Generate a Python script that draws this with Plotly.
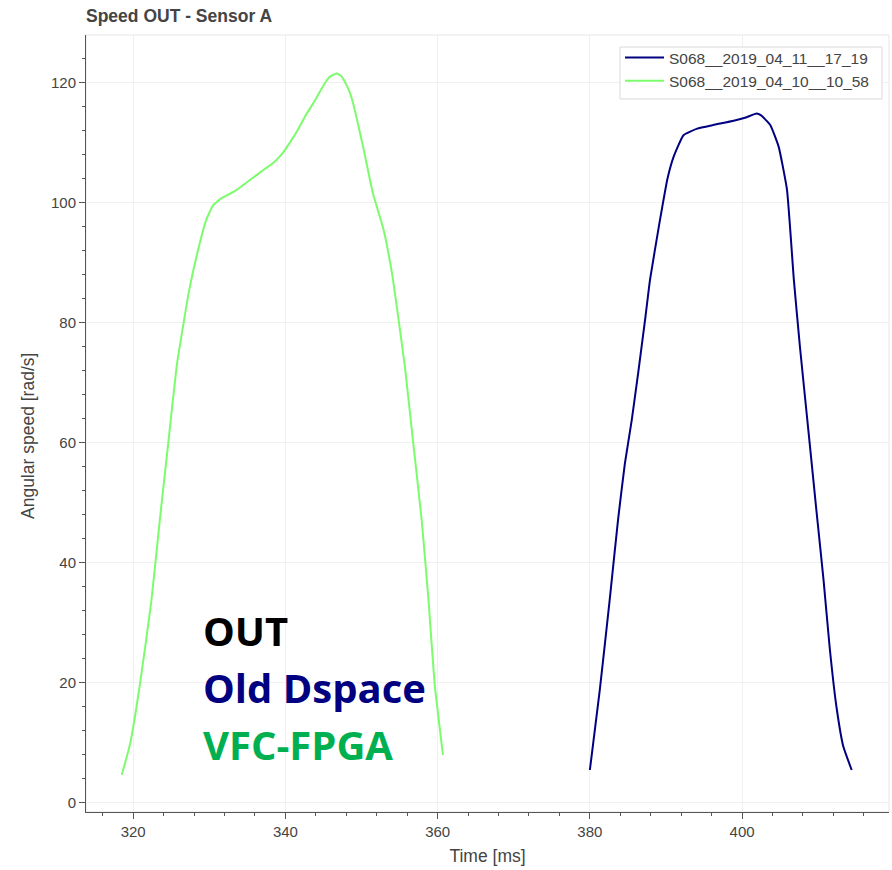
import plotly.graph_objects as go

# ---- data ----
green_name = "S068__2019_04_10__10_58"
green_time = [318.5, 319.6, 320.9, 322.4, 323.5, 324.6, 325.7, 326.7, 327.3, 328.3,
              329.6, 330.5, 331.6, 332.5, 333.6, 335.3, 337.1, 338.5, 339.5, 340.5,
              341.5, 342.8, 343.8, 344.5, 345.2, 345.8, 346.7, 347.3, 347.8, 348.4,
              348.9, 350.2, 351.5, 352.9, 354.0, 354.7, 355.7, 356.8, 357.9, 358.8,
              359.6, 360.7]
green_speed = [4.6, 9.8, 19.8, 33.7, 47.1, 59.8, 72.6, 80.5, 85.0, 90.9,
               97.1, 99.5, 100.7, 101.3, 102.1, 103.7, 105.4, 106.7, 108.0, 109.8,
               111.8, 114.8, 116.8, 118.4, 119.9, 120.9, 121.5, 121.1, 120.1, 118.5,
               116.5, 109.3, 101.5, 95.4, 88.2, 82.0, 72.6, 59.8, 47.1, 33.7,
               19.8, 7.9]

blue_name = "S068__2019_04_11__17_19"
blue_time = [380.0, 381.3, 382.6, 383.7, 384.6, 385.5, 386.4, 387.3, 387.9, 389.2,
             390.2, 391.0, 392.3, 394.1, 396.2, 398.9, 400.6, 401.9, 402.5, 403.7,
             404.8, 405.9, 406.8, 407.6, 408.7, 409.8, 410.7, 411.5, 412.4, 413.3,
             414.4]
blue_speed = [5.4, 18.7, 33.7, 47.1, 56.5, 63.7, 72.1, 80.9, 87.1, 97.0,
              104.0, 107.6, 111.2, 112.3, 112.9, 113.6, 114.2, 114.8, 114.5, 112.9,
              109.3, 102.1, 87.1, 75.9, 62.1, 48.2, 37.1, 25.9, 15.9, 9.3,
              5.4]

x_ticks = [320, 340, 360, 380, 400]
y_ticks = [0, 20, 40, 60, 80, 100, 120]

notes = ["OUT", "Old Dspace", "VFC-FPGA"]
note_colors = ["#000000", "#000080", "#00B050"]

# ---- figure ----
W, H = 892, 870
ML, MR, MT, MB = 86, 3, 35, 58
pw, ph = W - ML - MR, H - MT - MB
FONT = "Liberation Sans, Arial"


def px_x(x):
    return (x - ML) / pw


def px_y(y):
    return 1 - (y - MT) / ph


fig = go.Figure()
fig.add_trace(go.Scatter(x=blue_time, y=blue_speed, mode="lines", name=blue_name,
                         line=dict(color="#000080", width=2, shape="spline", smoothing=0.4)))
fig.add_trace(go.Scatter(x=green_time, y=green_speed, mode="lines", name=green_name,
                         line=dict(color="#7CFC6C", width=2, shape="spline", smoothing=0.4)))

axis_common = dict(
    showline=True, linecolor="#555555", linewidth=1,
    ticks="outside", ticklen=6, tickcolor="#555555", tickwidth=1,
    showgrid=True, gridcolor="#f0f0f0", gridwidth=1,
    zeroline=False,
    tickfont=dict(family=FONT, size=15, color="#444444"),
    minor=dict(ticks="outside", ticklen=3, tickcolor="#555555", dtick=4, showgrid=False),
)

fig.update_xaxes(range=[313.8, 419.3], tickvals=x_ticks, title_text="Time [ms]",
                 title_standoff=10,
                 title_font=dict(family=FONT, size=17.5, color="#444444"), **axis_common)
fig.update_yaxes(range=[-1.6, 127.9], tickvals=y_ticks, **axis_common)

# y-axis title as annotation (centred like the reference)
fig.add_annotation(text="Angular speed [rad/s]", textangle=-90, xref="paper", yref="paper",
                   x=px_x(28), y=px_y(436), xanchor="center", yanchor="middle",
                   showarrow=False, font=dict(family=FONT, size=17.5, color="#444444"))

# outline (Bokeh-style frame)
fig.add_shape(type="rect", xref="paper", yref="paper", x0=0, y0=0, x1=1, y1=1,
              line=dict(color="#e5e5e5", width=1), layer="below")

# legend box
fig.add_shape(type="rect", xref="paper", yref="paper",
              x0=px_x(620), x1=px_x(882), y0=px_y(99), y1=px_y(47),
              line=dict(color="#d9d9d9", width=1), fillcolor="white", layer="above")

note_y = [631, 688, 745]
for txt, col, yy in zip(notes, note_colors, note_y):
    fig.add_annotation(text="<b>%s</b>" % txt, xref="paper", yref="paper",
                       x=px_x(201), y=px_y(yy - 1), xanchor="left", yanchor="middle",
                       showarrow=False,
                       font=dict(family="Open Sans", size=40, color=col))

fig.update_layout(
    width=W, height=H,
    margin=dict(l=ML, r=MR, t=MT, b=MB),
    paper_bgcolor="white", plot_bgcolor="white",
    title=dict(text="<b>Speed OUT - Sensor A</b>", x=86 / W, xanchor="left",
               xref="container", y=1 - 16 / H, yref="container", yanchor="middle",
               font=dict(family=FONT, size=17.5, color="#444444")),
    legend=dict(x=px_x(620), y=px_y(41), xanchor="left", yanchor="top",
                bgcolor="rgba(0,0,0,0)", borderwidth=0, itemwidth=39,
                font=dict(family=FONT, size=15.5, color="#444444"),
                tracegroupgap=0),
    showlegend=True,
)

fig.write_html("out.html")
